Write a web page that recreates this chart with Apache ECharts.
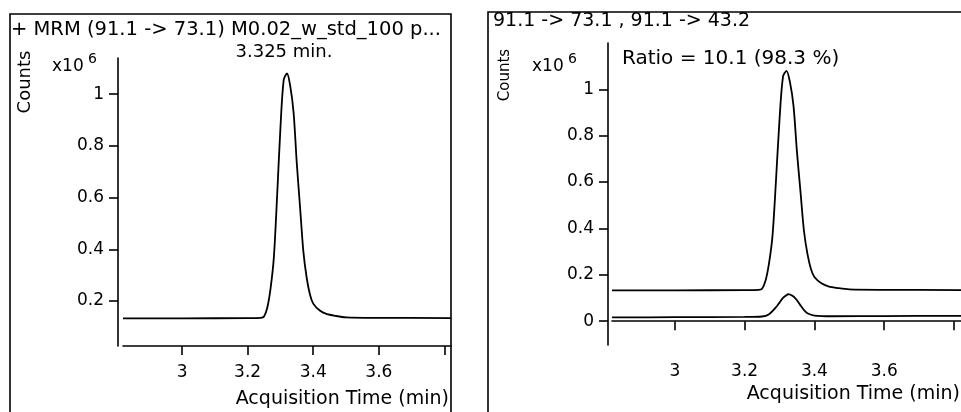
<!DOCTYPE html>
<html>
<head>
<meta charset="utf-8">
<script src="https://cdn.jsdelivr.net/npm/echarts@6/dist/echarts.min.js"></script>
<style>
  html, body { margin: 0; padding: 0; background: #fff; }
  #chart { width: 961px; height: 412px; }
</style>
</head>
<body>
<div id="chart"></div>
<script>
// acquisition time (min) and counts (x10^6)
const timeQuant = [2.82, 3.00, 3.20, 3.24, 3.25, 3.26, 3.27, 3.28, 3.29, 3.30, 3.31, 3.32, 3.33, 3.34, 3.35, 3.36, 3.37, 3.38, 3.39, 3.40, 3.42, 3.44, 3.47, 3.50, 3.60, 3.82];
const countsQuant = [0.133, 0.133, 0.134, 0.135, 0.14, 0.175, 0.25, 0.37, 0.61, 0.87, 1.055, 1.08, 1.03, 0.93, 0.73, 0.56, 0.39, 0.29, 0.225, 0.19, 0.163, 0.15, 0.142, 0.137, 0.135, 0.134];

const timeQual = [2.82, 3.00, 3.20, 3.25, 3.27, 3.29, 3.30, 3.31, 3.32, 3.325, 3.33, 3.34, 3.35, 3.36, 3.37, 3.38, 3.40, 3.45, 3.60, 3.82];
const countsQual = [0.016, 0.017, 0.018, 0.02, 0.03, 0.06, 0.08, 0.1, 0.112, 0.116, 0.115, 0.106, 0.09, 0.068, 0.048, 0.034, 0.024, 0.021, 0.022, 0.023];

const xTicks = [3, 3.2, 3.4, 3.6, 3.8];
const xLabels = [3, 3.2, 3.4, 3.6];
const yTicksLeft = [0.2, 0.4, 0.6, 0.8, 1];
const yTicksRight = [0, 0.2, 0.4, 0.6, 0.8, 1];

const FONT = 'DejaVu Sans';
const pairs = (xs, ys) => xs.map((x, i) => [x, ys[i]]);

const chart = echarts.init(document.getElementById('chart'));

const xAxisBase = {
  type: 'value',
  min: 2.82,
  max: 3.82,
  axisLine: { lineStyle: { color: '#000', width: 1.6 } },
  axisTick: { customValues: xTicks, length: 9, lineStyle: { color: '#000', width: 1.6 } },
  axisLabel: { customValues: xLabels, color: '#000', fontFamily: FONT, fontSize: 17, margin: 18 },
  splitLine: { show: false }
};

const yAxisBase = {
  type: 'value',
  axisLine: { show: true, lineStyle: { color: '#000', width: 1.6 } },
  axisTick: { show: true, length: 9, lineStyle: { color: '#000', width: 1.6 } },
  axisLabel: { color: '#000', fontFamily: FONT, fontSize: 17, margin: 14 },
  splitLine: { show: false }
};

const lineStyle = { color: '#000', width: 1.8 };

const txt = (x, y, text, size, extra) => ({
  type: 'text', x: x, y: y,
  style: Object.assign({ text: text, fill: '#000', font: size + 'px "' + FONT + '"', verticalAlign: 'middle' }, extra || {})
});

const option = {
  animation: false,
  backgroundColor: '#fff',
  grid: [
    { left: 123, right: 510, top: 58, bottom: 66 },
    { left: 612, right: -3, top: 43, bottom: 67 }
  ],
  xAxis: [
    Object.assign({}, xAxisBase, { gridIndex: 0 }),
    Object.assign({}, xAxisBase, { gridIndex: 1 })
  ],
  yAxis: [
    Object.assign({}, yAxisBase, {
      gridIndex: 0, min: 0.026, max: 1.14, offset: 5,
      axisTick: Object.assign({}, yAxisBase.axisTick, { customValues: yTicksLeft }),
      axisLabel: Object.assign({}, yAxisBase.axisLabel, { customValues: yTicksLeft })
    }),
    Object.assign({}, yAxisBase, {
      gridIndex: 1, min: -0.103, max: 1.2, offset: 4,
      axisTick: Object.assign({}, yAxisBase.axisTick, { customValues: yTicksRight }),
      axisLabel: Object.assign({}, yAxisBase.axisLabel, { customValues: yTicksRight })
    })
  ],
  series: [
    { type: 'line', xAxisIndex: 0, yAxisIndex: 0, data: pairs(timeQuant, countsQuant), showSymbol: false, smooth: 0.3, lineStyle: lineStyle },
    { type: 'line', xAxisIndex: 1, yAxisIndex: 1, data: pairs(timeQuant, countsQuant), showSymbol: false, smooth: 0.3, lineStyle: lineStyle },
    { type: 'line', xAxisIndex: 1, yAxisIndex: 1, data: pairs(timeQual, countsQual), showSymbol: false, smooth: 0.3, lineStyle: lineStyle }
  ],
  graphic: [
    { type: 'rect', shape: { x: 10, y: 14, width: 441, height: 430 }, style: { fill: 'none', stroke: '#000', lineWidth: 1.6 } },
    { type: 'rect', shape: { x: 488, y: 12, width: 500, height: 430 }, style: { fill: 'none', stroke: '#000', lineWidth: 1.6 } },

    txt(11, 30, '+ MRM (91.1 -> 73.1) M0.02_w_std_100 p...', 19.5),
    txt(25, 82, 'Counts', 18, { align: 'center' }),
    txt(52, 67, 'x10', 17),
    txt(88, 59, '6', 14),
    txt(284, 52, '3.325 min.', 18, { align: 'center' }),
    txt(449, 399, 'Acquisition Time (min)', 19, { align: 'right' }),

    txt(493, 21, '91.1 -> 73.1 , 91.1 -> 43.2', 19),
    txt(505, 75, 'Counts', 15, { align: 'center' }),
    txt(532, 67, 'x10', 17),
    txt(568, 59, '6', 14),
    txt(622, 59, 'Ratio = 10.1 (98.3 %)', 20),
    txt(960, 394, 'Acquisition Time (min)', 19, { align: 'right' })
  ]
};

// rotate the "Counts" labels
option.graphic[3].rotation = Math.PI / 2;
option.graphic[9].rotation = Math.PI / 2;

chart.setOption(option);
</script>
</body>
</html>
